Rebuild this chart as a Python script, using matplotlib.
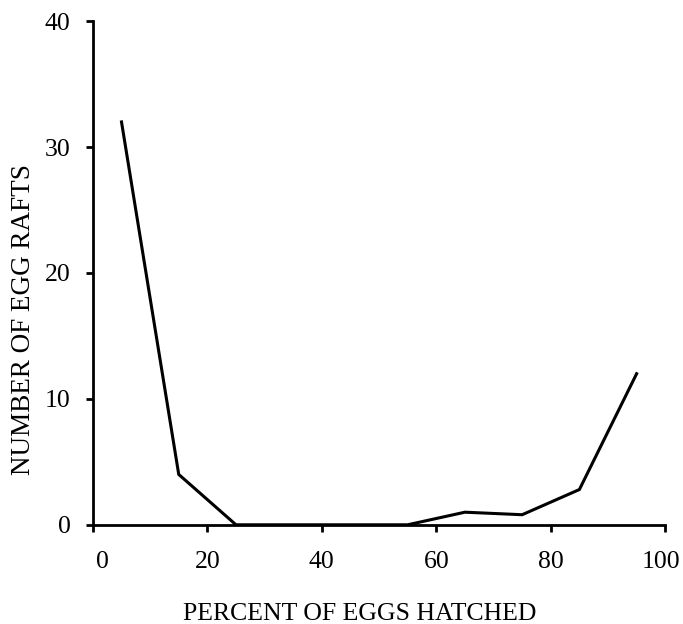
import matplotlib
matplotlib.use("Agg")
import matplotlib.pyplot as plt
from matplotlib.transforms import ScaledTranslation

# Egg raft hatch counts per 10% hatch class
pct_hatched = [5, 15, 25, 35, 45, 55, 65, 75, 85, 95]
n_rafts     = [32, 4, 0, 0, 0, 0, 1, 0.8, 2.8, 12]

x_ticks = [0, 20, 40, 60, 80, 100]
y_ticks = [0, 10, 20, 30, 40]

plt.rcParams["font.family"] = ["Liberation Serif", "DejaVu Serif"]

fig = plt.figure(figsize=(6.83, 6.24), dpi=100)
ax = fig.add_axes([0.136, 0.159, 0.838, 0.807])

ax.plot(pct_hatched, n_rafts, color="black", lw=2.2, solid_joinstyle="miter")

ax.set_xlim(0, 100)
ax.set_ylim(0, 40)
ax.set_xticks(x_ticks)
ax.set_yticks(y_ticks)

for side in ("top", "right"):
    ax.spines[side].set_visible(False)
for side in ("left", "bottom"):
    ax.spines[side].set_linewidth(2.0)

ax.tick_params(direction="out", length=5, width=2.0, labelsize=18.5)
ax.tick_params(axis="y", pad=11)
ax.tick_params(axis="x", pad=14)

# nudge the end labels: "0" clear of the y axis, "100" inside the figure
xlabels = ax.get_xticklabels()
xlabels[0].set_transform(xlabels[0].get_transform() + ScaledTranslation(0.10, 0, fig.dpi_scale_trans))
xlabels[-1].set_transform(xlabels[-1].get_transform() + ScaledTranslation(-0.04, 0, fig.dpi_scale_trans))

ax.set_xlabel("PERCENT OF EGGS HATCHED", fontsize=18.5)
ax.set_ylabel("NUMBER OF EGG RAFTS", fontsize=19.5)
ax.xaxis.set_label_coords(0.467, -0.155)
ax.yaxis.set_label_coords(-0.100, 0.407)

fig.savefig("out.png", dpi=100)
